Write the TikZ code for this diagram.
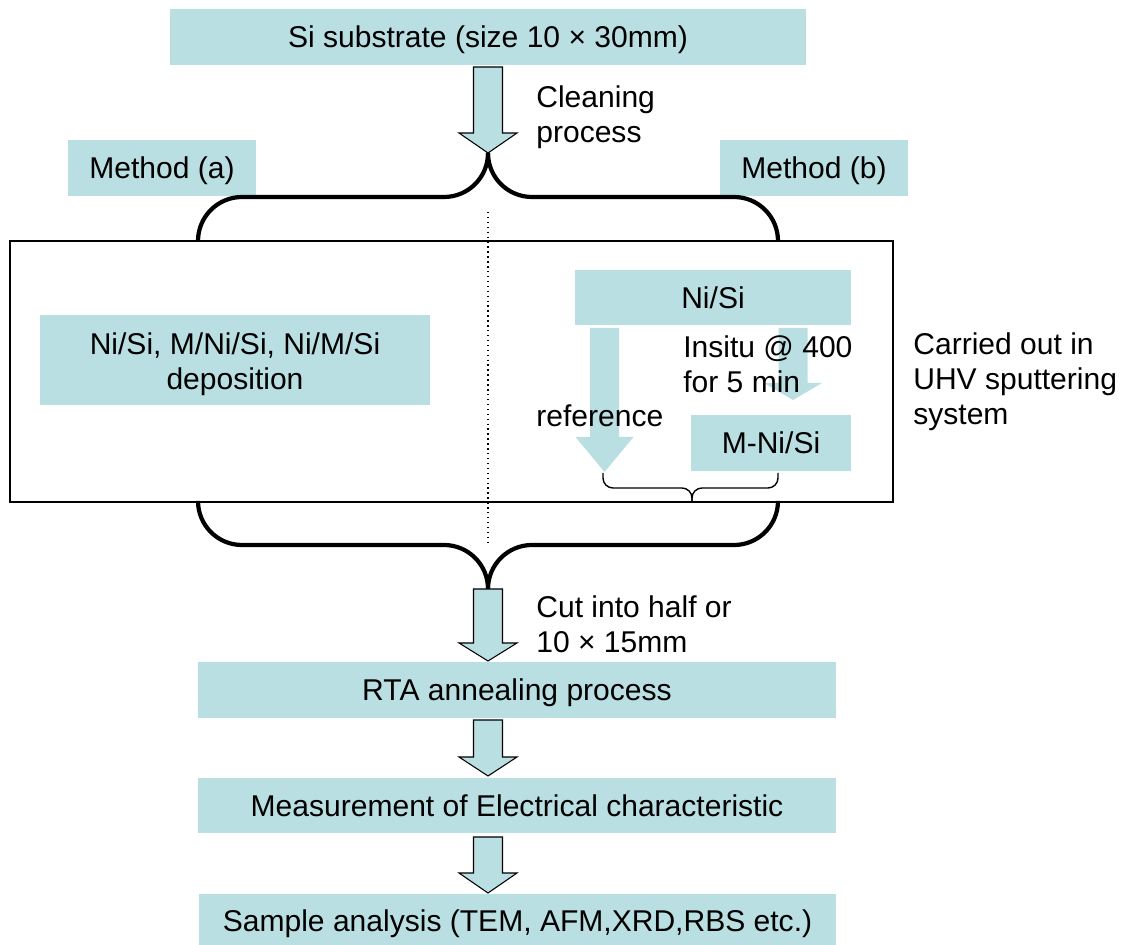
\documentclass[tikz,border=0pt]{standalone}
\usepackage{fontspec}
\setmainfont{Liberation Sans}
\usetikzlibrary{positioning}
\definecolor{BoxCyan}{RGB}{185,223,226}

\tikzset{
  box/.style={fill=BoxCyan, inner sep=0pt, align=center},
  onebox/.style={box, text height=12.3pt, text depth=0pt},
  note/.style={anchor=west, align=left, inner sep=0pt},
  bigbrace/.style={line width=2.4pt, rounded corners=0.88cm},
  smallbrace/.style={line width=0.8pt, rounded corners=0.2cm},
}
% block arrow: x, top y, neck y, tip y (pixel units)
\newcommand{\blockarrow}[5][draw=black,line width=0.6pt]{%
  \path[fill=BoxCyan,#1] (#2-14.5,#3) -- (#2+14.5,#3) -- (#2+14.5,#4) -- (#2+29,#4)
    -- (#2,#5) -- (#2-29,#4) -- (#2-14.5,#4) -- cycle;}

\begin{document}
\begin{tikzpicture}[x=0.02cm,y=-0.02cm,font=\fontsize{17.1pt}{20pt}\selectfont]
  \useasboundingbox (0,0) rectangle (1126,945);

  % boxes of the flow
  \node[onebox, minimum width=12.72cm, minimum height=1.12cm] (substrate) at (488,37) {Si substrate (size 10 × 30mm)};
  \node[onebox, minimum width=3.76cm, minimum height=1.12cm] (metha) at (162,168) {Method (a)};
  \node[onebox, minimum width=3.76cm, minimum height=1.12cm] (methb) at (814,168) {Method (b)};
  \node[box, minimum width=7.8cm, minimum height=1.8cm] (depo) at (235,360) {};
  \node[align=center, inner sep=0pt] (depotext) at (235,364) {Ni/Si, M/Ni/Si, Ni/M/Si\\deposition};
  \node[onebox, minimum width=5.52cm, minimum height=1.1cm] (nisi) at (713,297.5) {Ni/Si};
  \node[onebox, minimum width=3.2cm, minimum height=1.12cm] (mnisi) at (771,443) {M-Ni/Si};
  \node[onebox, minimum width=12.76cm, minimum height=1.12cm] (rta) at (517,690) {RTA annealing process};
  \node[onebox, minimum width=12.76cm, minimum height=1.1cm] (meas) at (517,805.5) {Measurement of Electrical characteristic};
  \node[onebox, minimum width=12.74cm, minimum height=1.08cm] (sample) at (517.5,921) {Sample analysis (TEM, AFM,XRD,RBS etc.)};

  % sputtering chamber frame
  \draw[line width=0.8pt] (10,241) rectangle (893,502);
  \draw[dotted, line width=0.8pt] (488,212) -- (488,543);

  % braces
  \coordinate (topjoin) at (488,153);
  \coordinate (botjoin) at (488,589);
  \coordinate (refjoin) at (692,502);
  \draw[bigbrace] (topjoin) -- (488,197) -- (198,197) -- (198,241);
  \draw[bigbrace] (topjoin) -- (488,197) -- (778,197) -- (778,241);
  \draw[bigbrace] (botjoin) -- (488,545) -- (198,545) -- (198,502);
  \draw[bigbrace] (botjoin) -- (488,545) -- (778,545) -- (778,502);
  \draw[smallbrace] (603,473) -- (603,488) -- (692,488) -- (refjoin);
  \draw[smallbrace] (778,473) -- (778,488) -- (692,488) -- (refjoin);

  % arrows
  \blockarrow{488}{67}{133}{153}
  \blockarrow{488}{589}{643}{661}
  \blockarrow{488}{720}{757}{776}
  \blockarrow{488}{837}{873}{893}
  \blockarrow[draw=none]{604.5}{328}{437}{472}
  \blockarrow[draw=none]{793}{328}{383}{400}

  % side notes
  \node[note] (cleaning) at (536,117) {Cleaning\\process};
  \node[note] (cutnote) at (536,624) {Cut into half or\\10 × 15mm};
  \node[note] (insitu) at (683,364) {Insitu @ 400\\for 5 min};
  \node[note] (refnote) at (536,416) {reference};
  \node[note] (uhv) at (913,382) {Carried out in\\UHV sputtering\\system};
\end{tikzpicture}
\end{document}
